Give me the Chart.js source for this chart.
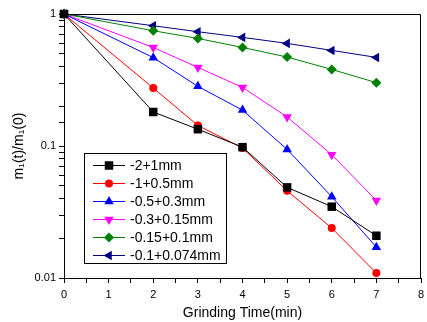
<!DOCTYPE html>
<html>
<head>
<meta charset="utf-8">
<script src="https://cdn.jsdelivr.net/npm/chart.js@4.4.1/dist/chart.umd.min.js"></script>
<style>
  html, body { margin: 0; padding: 0; background: #fff; }
  #wrap { width: 427px; height: 322px; }
</style>
</head>
<body>
<div id="wrap"><canvas id="c" width="427" height="322"></canvas></div>
<script>
// grinding time (min)
var times = [0, 2, 3, 4, 5, 6, 7];

var names = ["-2+1mm", "-1+0.5mm", "-0.5+0.3mm", "-0.3+0.15mm", "-0.15+0.1mm", "-0.1+0.074mm"];

// m1(t)/m1(0) for each size fraction
var s2_1     = [1, 0.181, 0.134, 0.098, 0.0486, 0.0347, 0.0209];
var s1_05    = [1, 0.275, 0.143, 0.0966, 0.0458, 0.0239, 0.0109];
var s05_03   = [1, 0.467, 0.283, 0.187, 0.0942, 0.0413, 0.0171];
var s03_015  = [1, 0.558, 0.394, 0.278, 0.166, 0.0859, 0.0387];
var s015_01  = [1, 0.747, 0.653, 0.558, 0.472, 0.380, 0.302];
var s01_0074 = [1, 0.815, 0.734, 0.665, 0.599, 0.530, 0.469];

var yLabels = [1, 0.1, 0.01];
var xLabels = [0, 1, 2, 3, 4, 5, 6, 7, 8];

var FONT = "'Liberation Sans', Arial, sans-serif";

function pts(vals) {
  var out = [];
  for (var i = 0; i < times.length; i++) out.push({x: times[i], y: vals[i]});
  return out;
}

function ds(i, vals, color, style, rot, r) {
  return {
    label: names[i],
    data: pts(vals),
    borderColor: color,
    backgroundColor: color,
    borderWidth: 1,
    pointStyle: style,
    rotation: rot,
    pointRadius: r,
    pointBorderWidth: 0,
    pointBackgroundColor: color,
    tension: 0,
    clip: 6
  };
}

var datasets = [
  ds(0, s2_1, "#000000", "rect", 0, 6),
  ds(1, s1_05, "#ff0000", "circle", 0, 4),
  ds(2, s05_03, "#0000ff", "triangle", 0, 5.5),
  ds(3, s03_015, "#ff00ff", "triangle", 180, 5.5),
  ds(4, s015_01, "#008000", "rectRot", 0, 5),
  ds(5, s01_0074, "#000080", "triangle", 270, 5.5)
];

// frame around the plot + legend box inside
var framePlugin = {
  id: "frame",
  afterDatasetsDraw: function(chart) {
    var ctx = chart.ctx, a = chart.chartArea;
    ctx.save();
    ctx.strokeStyle = "#000";
    ctx.lineWidth = 1;
    ctx.beginPath();
    ctx.moveTo(a.left, a.top + 0.5);
    ctx.lineTo(a.right - 0.5, a.top + 0.5);
    ctx.lineTo(a.right - 0.5, a.bottom);
    ctx.stroke();

    // legend
    var bx = 84.5, by = 153.5, bw = 142, bh = 110, rowH = 18;
    ctx.fillStyle = "#fff";
    ctx.fillRect(bx, by, bw, bh);
    ctx.strokeRect(bx, by, bw, bh);
    ctx.font = "14px " + FONT;
    ctx.textBaseline = "middle";
    chart.data.datasets.forEach(function(d, i) {
      var y = 165 + i * rowH;
      ctx.strokeStyle = d.borderColor;
      ctx.beginPath();
      ctx.moveTo(93, y + 0.5);
      ctx.lineTo(125, y + 0.5);
      ctx.stroke();
      ctx.fillStyle = d.borderColor;
      Chart.helpers.drawPoint(ctx, {
        pointStyle: d.pointStyle, rotation: d.rotation, radius: d.pointRadius, borderWidth: 0
      }, 109, y + 0.5);
      ctx.fillStyle = "#000";
      ctx.fillText(d.label, 130, y + 1);
    });
    ctx.restore();
  }
};

var ctx = document.getElementById("c");
var chart = new Chart(ctx, {
  type: "line",
  data: { datasets: datasets },
  options: {
    responsive: false,
    animation: false,
    layout: { padding: { top: 14, right: 1, left: 0, bottom: 0 } },
    plugins: { legend: { display: false }, tooltip: { enabled: false } },
    scales: {
      x: {
        type: "linear",
        min: 0,
        max: 8,
        border: { display: true, color: "#000", width: 1 },
        grid: { drawOnChartArea: false, drawTicks: true, tickLength: 5, color: "#000" },
        ticks: {
          stepSize: 0.5,
          autoSkip: false,
          maxRotation: 0,
          padding: 5,
          color: "#000",
          font: { family: FONT, size: 11 },
          callback: function(v) { return xLabels.indexOf(v) >= 0 ? String(v) : ""; }
        },
        title: { display: true, text: "Grinding Time(min)", color: "#000",
                 font: { family: FONT, size: 14 }, padding: { top: 0, bottom: 0 } },
        afterFit: function(s) { s.height = 44; s.paddingLeft = 0; s.paddingRight = 0; }
      },
      y: {
        type: "logarithmic",
        min: 0.01,
        max: 1,
        border: { display: true, color: "#000", width: 1 },
        grid: { drawOnChartArea: false, drawTicks: true, tickLength: 5, color: "#000" },
        ticks: {
          autoSkip: false,
          padding: 3,
          color: "#000",
          font: { family: FONT, size: 11 },
          callback: function(v) {
            for (var i = 0; i < yLabels.length; i++) {
              if (Math.abs(v - yLabels[i]) < yLabels[i] * 1e-6) return String(yLabels[i]);
            }
            return "";
          }
        },
        title: { display: true, text: "m\u2081(t)/m\u2081(0)", color: "#000",
                 font: { family: FONT, size: 14 }, padding: { top: 11, bottom: 0 } },
        afterFit: function(s) { s.width = 64; s.paddingTop = 0; s.paddingBottom = 0; }
      }
    }
  },
  plugins: [framePlugin]
});
</script>
</body>
</html>
